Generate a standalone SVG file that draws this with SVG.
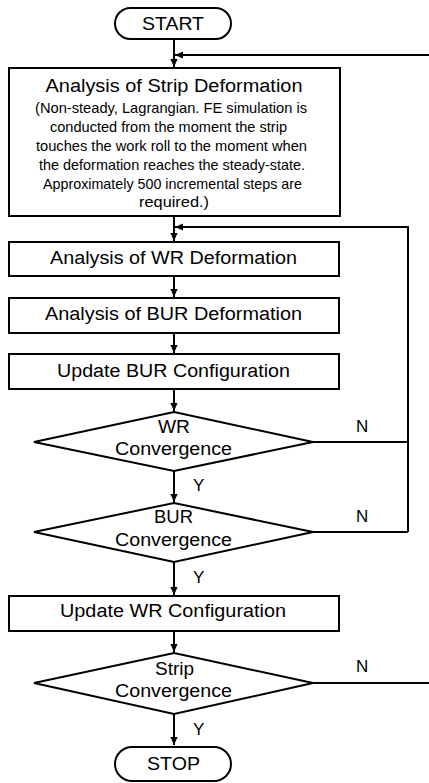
<svg xmlns="http://www.w3.org/2000/svg" width="429" height="783" viewBox="0 0 429 783">
<style>
.n{fill:#fff;stroke:#000;stroke-width:2}
.c{fill:none;stroke:#000;stroke-width:2}
text{font-family:"Liberation Sans",Arial,sans-serif;fill:#000;text-anchor:middle}
.t{font-size:18px}
.s{font-size:14.5px}
.l{font-size:17px;text-anchor:start}
</style>
<defs>
<marker id="ah" viewBox="0 0 10 10" refX="10" refY="5" markerWidth="8" markerHeight="8" orient="auto" markerUnits="userSpaceOnUse">
<path d="M0,0.5 L10,5 L0,9.5 z" fill="#000"/>
</marker>
</defs>
<g id="connectors">
<path class="c" d="M174,39 V67" marker-end="url(#ah)"/>
<path class="c" d="M429,55 H175" marker-end="url(#ah)"/>
<path class="c" d="M174,216 V241" marker-end="url(#ah)"/>
<path class="c" d="M408,532 V227 H175" marker-end="url(#ah)"/>
<path class="c" d="M313,442 H408"/>
<path class="c" d="M313,532 H408"/>
<path class="c" d="M174,276 V297" marker-end="url(#ah)"/>
<path class="c" d="M174,333 V353" marker-end="url(#ah)"/>
<path class="c" d="M174,389 V411" marker-end="url(#ah)"/>
<path class="c" d="M174,471 V502" marker-end="url(#ah)"/>
<path class="c" d="M174,562 V595" marker-end="url(#ah)"/>
<path class="c" d="M174,631 V652" marker-end="url(#ah)"/>
<path class="c" d="M313,683 H429"/>
<path class="c" d="M174,714 V745" marker-end="url(#ah)"/>
<text class="l" x="356" y="432">N</text>
<text class="l" x="356" y="522">N</text>
<text class="l" x="356" y="672">N</text>
<text class="l" x="193" y="491">Y</text>
<text class="l" x="193" y="583">Y</text>
<text class="l" x="193" y="735">Y</text>
</g>
<g id="start">
<rect class="n" x="115" y="8" width="116" height="31" rx="15.5"/>
<text class="t" x="173" y="30" textLength="62" lengthAdjust="spacingAndGlyphs">START</text>
</g>
<g id="strip">
<rect class="n" x="9" y="68" width="331" height="148"/>
<text class="t" x="174" y="92" textLength="257" lengthAdjust="spacingAndGlyphs">Analysis of Strip Deformation</text>
<text class="s" x="171" y="113" textLength="272" lengthAdjust="spacingAndGlyphs">(Non-steady, Lagrangian. FE simulation is</text>
<text class="s" x="168.5" y="132" textLength="237" lengthAdjust="spacingAndGlyphs">conducted from the moment the strip</text>
<text class="s" x="171.5" y="151" textLength="271" lengthAdjust="spacingAndGlyphs">touches the work roll to the moment when</text>
<text class="s" x="172" y="170" textLength="266" lengthAdjust="spacingAndGlyphs">the deformation reaches the steady-state.</text>
<text class="s" x="172.5" y="189" textLength="259" lengthAdjust="spacingAndGlyphs">Approximately 500 incremental steps are</text>
<text class="s" x="174" y="207" textLength="70" lengthAdjust="spacingAndGlyphs">required.)</text>
</g>
<g id="wr">
<rect class="n" x="9" y="242" width="330" height="34"/>
<text class="t" x="173.5" y="264" textLength="247" lengthAdjust="spacingAndGlyphs">Analysis of WR Deformation</text>
</g>
<g id="bur">
<rect class="n" x="9" y="298" width="330" height="35"/>
<text class="t" x="173.5" y="320" textLength="257" lengthAdjust="spacingAndGlyphs">Analysis of BUR Deformation</text>
</g>
<g id="updbur">
<rect class="n" x="9" y="354" width="330" height="35"/>
<text class="t" x="173.5" y="377" textLength="233" lengthAdjust="spacingAndGlyphs">Update BUR Configuration</text>
</g>
<g id="wrconv">
<polygon class="n" points="174,412 313,442 174,471 34,442"/>
<text class="t" x="174" y="433" textLength="32" lengthAdjust="spacingAndGlyphs">WR</text>
<text class="t" x="173.5" y="455" textLength="117" lengthAdjust="spacingAndGlyphs">Convergence</text>
</g>
<g id="burconv">
<polygon class="n" points="174,503 313,532 174,562 34,532"/>
<text class="t" x="173.5" y="523" textLength="39" lengthAdjust="spacingAndGlyphs">BUR</text>
<text class="t" x="173.5" y="546" textLength="117" lengthAdjust="spacingAndGlyphs">Convergence</text>
</g>
<g id="updwr">
<rect class="n" x="9" y="596" width="330" height="35"/>
<text class="t" x="173" y="617" textLength="226" lengthAdjust="spacingAndGlyphs">Update WR Configuration</text>
</g>
<g id="stripconv">
<polygon class="n" points="174,653 313,683 174,714 34,683"/>
<text class="t" x="174.5" y="675" textLength="39" lengthAdjust="spacingAndGlyphs">Strip</text>
<text class="t" x="173.5" y="697" textLength="117" lengthAdjust="spacingAndGlyphs">Convergence</text>
</g>
<g id="stop">
<rect class="n" x="115" y="747" width="116" height="34" rx="17"/>
<text class="t" x="173.5" y="770" textLength="53" lengthAdjust="spacingAndGlyphs">STOP</text>
</g>
</svg>
